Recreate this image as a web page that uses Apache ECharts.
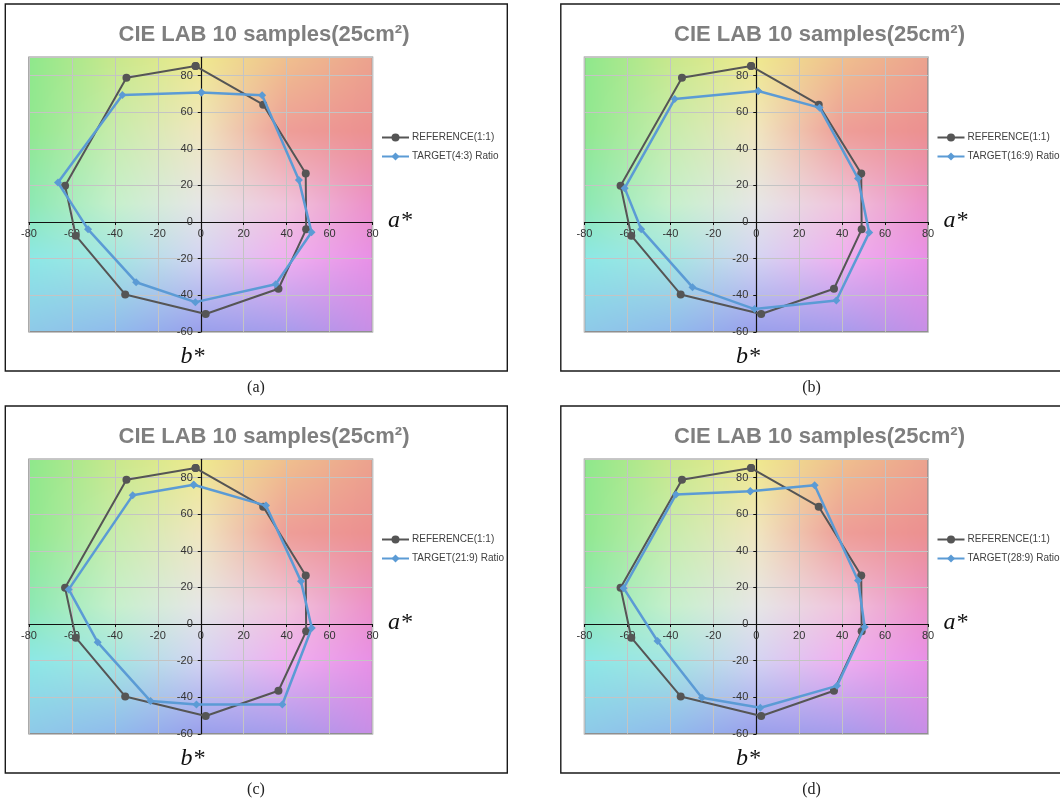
<!DOCTYPE html>
<html><head><meta charset="utf-8">
<script src="https://cdn.jsdelivr.net/npm/echarts@6/dist/echarts.min.js"></script>
<style>html,body{margin:0;padding:0;background:#fff}#c{width:1060px;height:803px}</style>
</head><body><div id="c"></div>
<script>
// ---------- DATA ----------
const chartTitle = 'CIE LAB 10 samples(25cm²)';
const referenceName = 'REFERENCE(1:1)';
const targetNames = ['TARGET(4:3) Ratio', 'TARGET(16:9) Ratio', 'TARGET(21:9) Ratio', 'TARGET(28:9) Ratio'];
const panelLetters = ['(a)', '(b)', '(c)', '(d)'];
const xAxisName = 'a*';
const yAxisName = 'b*';

// [a*, b*] for the 10 samples, in drawing order
const reference = [[-2.4, 85.2], [29.1, 64.1], [48.9, 26.5], [49.1, -4.0], [36.2, -36.5], [2.3, -50.3], [-35.2, -39.6], [-58.2, -7.5], [-63.2, 19.8], [-34.6, 78.8]];
const target43  = [[0.3, 70.8], [28.6, 69.2], [45.7, 22.9], [51.6, -5.6], [34.9, -34.0], [-2.5, -43.8], [-30.1, -32.9], [-52.5, -4.0], [-66.5, 21.6], [-36.5, 69.4]];
const target169 = [[0.9, 71.6], [29.5, 62.5], [47.4, 23.8], [52.6, -5.8], [37.3, -42.9], [-0.8, -47.6], [-29.7, -35.6], [-53.6, -4.0], [-61.3, 18.5], [-38.0, 67.2]];
const target219 = [[-3.3, 76.1], [30.4, 64.7], [46.7, 23.3], [51.7, -2.2], [38.0, -44.0], [-2.0, -44.0], [-23.4, -42.1], [-48.0, -10.0], [-61.5, 18.9], [-31.7, 70.3]];
const target289 = [[-2.8, 72.5], [27.2, 75.8], [47.4, 23.8], [50.5, -1.6], [37.6, -33.8], [1.9, -45.8], [-25.3, -40.3], [-46.0, -9.3], [-61.8, 19.6], [-37.4, 70.7]];
const targets = [target43, target169, target219, target289];

const xMin = -80, xMax = 80, xStep = 20;
const yMin = -60, yMax = 90, yStep = 20;

// ---------- STYLE / LAYOUT ----------
const panelOffsets = [[0, 0], [555.5, 0], [0, 402], [555.5, 402]];
const G = { left: 29, top: 57.3, width: 343.5, height: 274.5 };
// axes cross at the origin: move each axis from the grid edge to the zero line
const xAxisOffset = -((0 - yMin) / (yMax - yMin)) * G.height;
const yAxisOffset = -((0 - xMin) / (xMax - xMin)) * G.width;

// background colour control grid (decorative CIE-Lab-like backdrop)
const bgX = [-80, -40, 0, 40, 80];
const bgY = [90, 50, 10, -20, -60];
const bgC = [
  ['#8ee88c', '#c8e88c', '#efe98e', '#efc08e', '#eca28e'],
  ['#90e890', '#c8ecac', '#f0e6c0', '#ee9e98', '#ec9090'],
  ['#8ce8b4', '#c6f0cc', '#e6e6e6', '#f0c4dc', '#ec90c8'],
  ['#8ce8e6', '#a4e6e2', '#d4d4f2', '#f0b0f0', '#e890e6'],
  ['#8ecae8', '#90bcec', '#9aa0ec', '#a89cec', '#c88ee6']
];
function hx(h) { return [parseInt(h.slice(1, 3), 16), parseInt(h.slice(3, 5), 16), parseInt(h.slice(5, 7), 16)]; }
const bgRGB = bgC.map(r => r.map(hx));
function makeBg(w, h) {
  const cv = document.createElement('canvas');
  cv.width = w; cv.height = h;
  const ctx = cv.getContext('2d');
  const img = ctx.createImageData(w, h);
  for (let py = 0; py < h; py++) {
    const yv = yMax - (py + 0.5) / h * (yMax - yMin);
    let j = 0;
    while (j < bgY.length - 2 && yv < bgY[j + 1]) j++;
    let tv = (bgY[j] - yv) / (bgY[j] - bgY[j + 1]);
    tv = Math.max(0, Math.min(1, tv));
    for (let px = 0; px < w; px++) {
      const xv = xMin + (px + 0.5) / w * (xMax - xMin);
      let i = 0;
      while (i < bgX.length - 2 && xv > bgX[i + 1]) i++;
      let tu = (xv - bgX[i]) / (bgX[i + 1] - bgX[i]);
      tu = Math.max(0, Math.min(1, tu));
      const k = (py * w + px) * 4;
      for (let c = 0; c < 3; c++) {
        const a = bgRGB[j][i][c] * (1 - tu) + bgRGB[j][i + 1][c] * tu;
        const b = bgRGB[j + 1][i][c] * (1 - tu) + bgRGB[j + 1][i + 1][c] * tu;
        img.data[k + c] = Math.round(a * (1 - tv) + b * tv);
      }
      img.data[k + 3] = 255;
    }
  }
  ctx.putImageData(img, 0, 0);
  return cv;
}
const bgCanvas = makeBg(Math.round(G.width), Math.round(G.height));

const refColor = '#555555';
const tgtColor = '#5b9bd5';
const labelColor = '#333333';
const sansFont = 'Liberation Sans, Arial, sans-serif';
const serifFont = 'Liberation Serif, DejaVu Serif, serif';

const grids = [], xAxes = [], yAxes = [], series = [], legends = [], graphics = [];

panelOffsets.forEach(([dx, dy], p) => {
  grids.push({
    left: G.left + dx, top: G.top + dy, width: G.width, height: G.height,
    show: true, backgroundColor: 'transparent', borderColor: '#8f8f8f', borderWidth: 1.5,
    containLabel: false
  });
  xAxes.push({
    type: 'value', gridIndex: p, min: xMin, max: xMax, interval: xStep,
    position: 'bottom', offset: xAxisOffset,
    axisLine: { show: true, onZero: false, lineStyle: { color: '#111', width: 1.2 } },
    axisTick: { show: true, length: 3, lineStyle: { color: '#111' } },
    axisLabel: { show: true, margin: 6, fontSize: 11, color: labelColor, fontFamily: sansFont, showMinLabel: true, showMaxLabel: true },
    splitLine: { show: true, lineStyle: { color: '#c4c4c4', width: 1 } }
  });
  yAxes.push({
    type: 'value', gridIndex: p, min: yMin, max: yMax, interval: yStep,
    position: 'left', offset: yAxisOffset,
    axisLine: { show: true, onZero: false, lineStyle: { color: '#111', width: 1.2 } },
    axisTick: { show: true, length: 3, lineStyle: { color: '#111' } },
    axisLabel: { show: true, margin: 8, fontSize: 11, color: labelColor, fontFamily: sansFont, showMinLabel: true, showMaxLabel: false },
    splitLine: { show: true, lineStyle: { color: '#c4c4c4', width: 1 } }
  });
  series.push({
    type: 'line', name: referenceName, xAxisIndex: p, yAxisIndex: p,
    data: reference.concat([reference[0]]),
    symbol: 'circle', symbolSize: 8, showAllSymbol: true,
    lineStyle: { color: refColor, width: 2 },
    itemStyle: { color: refColor },
    z: 3, animation: false
  });
  const t = targets[p];
  series.push({
    type: 'line', name: targetNames[p], xAxisIndex: p, yAxisIndex: p,
    data: t.concat([t[0]]),
    symbol: 'diamond', symbolSize: 8, showAllSymbol: true,
    lineStyle: { color: tgtColor, width: 2.5 },
    itemStyle: { color: tgtColor },
    z: 4, animation: false
  });
  legends.push({
    orient: 'vertical', left: 381 + dx, top: 132.5 + dy,
    itemWidth: 27, itemHeight: 10, itemGap: 9, padding: 0,
    textStyle: { fontSize: 10, color: '#404040', fontFamily: sansFont, padding: [0, 0, 0, -2] },
    data: [referenceName, targetNames[p]],
    selectedMode: false
  });
  graphics.push({
    type: 'rect', z: 1, silent: true,
    shape: { x: 5.3 + dx, y: 4 + dy, width: 502, height: 367 },
    style: { fill: null, stroke: '#1a1a1a', lineWidth: 1.4 }
  });
  graphics.push({
    type: 'image', z: -10, silent: true,
    style: { image: bgCanvas, x: G.left + dx, y: G.top + dy, width: G.width, height: G.height }
  });
  graphics.push({
    type: 'text', z: 5, silent: true, x: 264 + dx, y: 34.5 + dy,
    style: { text: chartTitle, fill: '#7f7f7f', fontSize: 22, fontWeight: 'bold', fontFamily: sansFont, align: 'center', verticalAlign: 'middle', textAlign: 'center', textVerticalAlign: 'middle' }
  });
  graphics.push({
    type: 'text', z: 5, silent: true, x: 400 + dx, y: 221 + dy,
    style: { text: xAxisName, fill: '#111', fontSize: 24, fontStyle: 'italic', fontFamily: serifFont, align: 'center', verticalAlign: 'middle', textAlign: 'center', textVerticalAlign: 'middle' }
  });
  graphics.push({
    type: 'text', z: 5, silent: true, x: 192.5 + dx, y: 357 + dy,
    style: { text: yAxisName, fill: '#111', fontSize: 24, fontStyle: 'italic', fontFamily: serifFont, align: 'center', verticalAlign: 'middle', textAlign: 'center', textVerticalAlign: 'middle' }
  });
  graphics.push({
    type: 'text', z: 5, silent: true, x: 256 + dx, y: 388 + dy,
    style: { text: panelLetters[p], fill: '#222', fontSize: 16, fontFamily: serifFont, align: 'center', verticalAlign: 'middle', textAlign: 'center', textVerticalAlign: 'middle' }
  });
});

const chart = echarts.init(document.getElementById('c'), null, { renderer: 'canvas' });
chart.setOption({
  animation: false,
  backgroundColor: '#ffffff',
  grid: grids,
  xAxis: xAxes,
  yAxis: yAxes,
  legend: legends,
  series: series,
  graphic: { elements: graphics }
});
</script>
</body></html>
